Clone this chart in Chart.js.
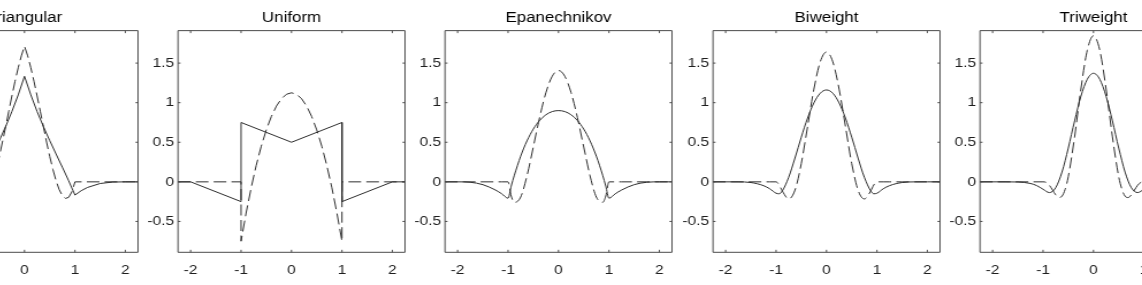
<!DOCTYPE html>
<html><head><meta charset="utf-8">
<script src="https://cdn.jsdelivr.net/npm/chart.js@4.4.1/dist/chart.umd.min.js"></script>
<style>
html,body{margin:0;padding:0;background:#fff;overflow:hidden;width:1142px;height:285px;position:relative;}
.panel{position:absolute;top:0;transform:scaleX(1.15);transform-origin:0 0;}
canvas{display:block;}
</style></head><body>
<script>
// ---------- data ----------
const titles = ['Triangular', 'Uniform', 'Epanechnikov', 'Biweight', 'Triweight'];
const xTickValues = [-2, -1, 0, 1, 2];
const yTickValues = [-0.5, 0, 0.5, 1, 1.5];

// Triangular
const triSolidX = [-2.25,-2,-1.75,-1.5,-1.25,-1.125,-1,-0.875,-0.75,-0.625,-0.5,-0.375,-0.25,-0.125,0,0.125,0.25,0.375,0.5,0.625,0.75,0.875,1,1.125,1.25,1.5,1.75,2,2.25];
const triSolidY = [0,0,-0.0026,-0.0208,-0.0703,-0.1117,-0.1667,0.014,0.1849,0.3519,0.5208,0.6976,0.888,1.098,1.3333,1.098,0.888,0.6976,0.5208,0.3519,0.1849,0.014,-0.1667,-0.1117,-0.0703,-0.0208,-0.0026,0,0];
const triDashX = [-2.25,-1,-0.9375,-0.875,-0.8125,-0.75,-0.6875,-0.625,-0.5625,-0.5,-0.4375,-0.375,-0.3125,-0.25,-0.1875,-0.125,-0.0625,0,0.0625,0.125,0.1875,0.25,0.3125,0.375,0.4375,0.5,0.5625,0.625,0.6875,0.75,0.8125,0.875,0.9375,1,2.25];
const triDashY = [0,0,-0.1283,-0.1959,-0.2091,-0.1741,-0.0973,0.0151,0.1567,0.3214,0.5029,0.6948,0.8908,1.0848,1.2704,1.4414,1.5915,1.7143,1.5915,1.4414,1.2704,1.0848,0.8908,0.6948,0.5029,0.3214,0.1567,0.0151,-0.0973,-0.1741,-0.2091,-0.1959,-0.1283,0,0];

// Uniform
const uniSolidX = [-2.25,-2,-1,-1,0,1,1,2,2.25];
const uniSolidY = [0,0,-0.25,0.75,0.5,0.75,-0.25,0,0];
const uniDashX = [-2.25,-1,-1,-0.9,-0.8,-0.7,-0.6,-0.5,-0.4,-0.3,-0.2,-0.1,0,0.1,0.2,0.3,0.4,0.5,0.6,0.7,0.8,0.9,1,1,2.25];
const uniDashY = [0,0,-0.75,-0.3938,-0.075,0.2063,0.45,0.6563,0.825,0.9563,1.05,1.1063,1.125,1.1063,1.05,0.9563,0.825,0.6563,0.45,0.2063,-0.075,-0.3938,-0.75,0,0];

// Epanechnikov
const epaX = [-2.25,-2,-1.75,-1.5,-1.25,-1.125,-1,-0.9375,-0.875,-0.75,-0.625,-0.5,-0.375,-0.25,-0.125,0,0.125,0.25,0.375,0.5,0.625,0.75,0.875,0.9375,1,1.125,1.25,1.5,1.75,2,2.25];
const epaSolidY = [0,0,-0.0052,-0.0357,-0.1033,-0.1509,-0.2063,-0.0546,0.0842,0.3244,0.5173,0.6662,0.7749,0.8473,0.8876,0.9,0.8876,0.8473,0.7749,0.6662,0.5173,0.3244,0.0842,-0.0546,-0.2063,-0.1509,-0.1033,-0.0357,-0.0052,0,0];
const epaDashY = [0,0,0,0,0,0,0,-0.1789,-0.2592,-0.1923,0.0759,0.4395,0.812,1.1261,1.3338,1.4063,1.3338,1.1261,0.812,0.4395,0.0759,-0.1923,-0.2592,-0.1789,0,0,0,0,0,0,0];

// Biweight
const biwX = [-2.25,-2,-1.75,-1.5,-1.25,-1.125,-1,-0.9375,-0.875,-0.75,-0.625,-0.5,-0.375,-0.25,-0.125,0,0.125,0.25,0.375,0.5,0.625,0.75,0.875,0.9375,1,1.125,1.25,1.5,1.75,2,2.25];
const biwSolidY = [0,0,-0.0004,-0.0085,-0.0478,-0.0876,-0.1437,-0.1504,-0.1128,0.0575,0.3009,0.5641,0.806,0.9974,1.1191,1.1607,1.1191,0.9974,0.806,0.5641,0.3009,0.0575,-0.1128,-0.1504,-0.1437,-0.0876,-0.0478,-0.0085,-0.0004,0,0];
const biwDashY = [0,0,0,0,0,0,0,-0.0394,-0.1169,-0.2159,-0.1047,0.2307,0.7005,1.1716,1.5153,1.6406,1.5153,1.1716,0.7005,0.2307,-0.1047,-0.2159,-0.1169,-0.0394,0,0,0,0,0,0,0];

// Triweight
const triwSolidX = [-2.25,-2,-1.75,-1.5,-1.25,-1.125,-1,-0.875,-0.75,-0.625,-0.5,-0.375,-0.25,-0.125,0,0.125,0.25,0.375,0.5,0.625,0.75,0.875,1,1.125,1.25,1.5,1.75,2,2.25];
const triwSolidY = [0,0,0,-0.0019,-0.0207,-0.0476,-0.0938,-0.1354,-0.0741,0.1235,0.4266,0.7698,1.0806,1.2942,1.3716,1.2942,1.0806,0.7698,0.4266,0.1235,-0.0741,-0.1354,-0.0938,-0.0476,-0.0207,-0.0019,0,0,0];
const triwDashX = [-2.25,-1,-0.9375,-0.875,-0.8125,-0.75,-0.6875,-0.625,-0.5625,-0.5,-0.375,-0.25,-0.125,0,0.125,0.25,0.375,0.5,0.5625,0.625,0.6875,0.75,0.8125,0.875,0.9375,1,2.25];
const triwDashY = [0,0,-0.0073,-0.043,-0.1029,-0.1642,-0.1984,-0.1805,-0.0944,0.0649,0.5674,1.1723,1.6597,1.8457,1.6597,1.1723,0.5674,0.0649,-0.0944,-0.1805,-0.1984,-0.1642,-0.1029,-0.043,-0.0073,0,0];

// ---------- layout / style ----------
const S = 1.15;                 // horizontal text stretch of the original
const AXIS_W = 45, PLOT_W = 227, RIGHT_PAD = 5;
const PANEL_LEFTS = [-88.8, 178.3, 445.4, 712.5, 979.6];
const X_AXIS_H = 32.7;
const FONT = '"Liberation Sans", Arimo, Arial, Helvetica, sans-serif';
const LINE_COLOR = '#2e2e2e';
const AXIS_COLOR = '#4a4a4a';
const TEXT_COLOR = '#1e1e1e';

const panels = [
  {title: titles[0], sx: triSolidX, sy: triSolidY, dx: triDashX, dy: triDashY, smooth: false},
  {title: titles[1], sx: uniSolidX, sy: uniSolidY, dx: uniDashX, dy: uniDashY, smooth: false},
  {title: titles[2], sx: epaX, sy: epaSolidY, dx: epaX, dy: epaDashY, smooth: true},
  {title: titles[3], sx: biwX, sy: biwSolidY, dx: biwX, dy: biwDashY, smooth: true},
  {title: titles[4], sx: triwSolidX, sy: triwSolidY, dx: triwDashX, dy: triwDashY, smooth: true}
];

const pts = (xs, ys) => xs.map((x, i) => ({x, y: ys[i]}));

const boxPlugin = {
  id: 'matlabBox',
  afterDatasetsDraw(chart) {
    const {ctx, chartArea: {left, right, top, bottom}, scales: {x, y}} = chart;
    ctx.save();
    ctx.strokeStyle = AXIS_COLOR;
    ctx.lineWidth = 1;
    ctx.setLineDash([]);
    ctx.beginPath();
    ctx.rect(left, top, right - left, bottom - top);
    const tl = 2.5;
    x.ticks.forEach(t => {
      const px = x.getPixelForValue(t.value);
      ctx.moveTo(px, bottom); ctx.lineTo(px, bottom - tl);
      ctx.moveTo(px, top); ctx.lineTo(px, top + tl);
    });
    y.ticks.forEach(t => {
      const py = y.getPixelForValue(t.value);
      ctx.moveTo(left, py); ctx.lineTo(left + tl / S, py);
      ctx.moveTo(right, py); ctx.lineTo(right - tl / S, py);
    });
    ctx.stroke();
    ctx.restore();
  }
};

const canvasW = Math.ceil((AXIS_W + PLOT_W + RIGHT_PAD) / S);
const padRight = canvasW - (AXIS_W + PLOT_W) / S;

panels.forEach((p, i) => {
  const div = document.createElement('div');
  div.className = 'panel';
  div.style.left = (PANEL_LEFTS[i] - AXIS_W) + 'px';
  const cv = document.createElement('canvas');
  cv.width = canvasW; cv.height = 285;
  cv.style.width = canvasW + 'px'; cv.style.height = '285px';
  div.appendChild(cv);
  document.body.appendChild(div);

  const mode = p.smooth ? 'monotone' : 'default';
  new Chart(cv, {
    type: 'line',
    data: {
      datasets: [
        {data: pts(p.dx, p.dy), borderColor: LINE_COLOR, borderWidth: 1, borderDash: [11, 4.5],
         pointRadius: 0, tension: 0, cubicInterpolationMode: mode, fill: false},
        {data: pts(p.sx, p.sy), borderColor: LINE_COLOR, borderWidth: 1,
         pointRadius: 0, tension: 0, cubicInterpolationMode: mode, fill: false}
      ]
    },
    options: {
      responsive: false, animation: false, devicePixelRatio: 1,
      layout: {padding: {left: 0, right: padRight, top: 0, bottom: 0}},
      plugins: {
        legend: {display: false}, tooltip: {enabled: false},
        title: {display: true, text: p.title, color: '#000', fullSize: false,
                font: {family: FONT, size: 14.7, weight: 'normal'},
                padding: {top: 9.3, bottom: 3.7}}
      },
      scales: {
        x: {
          type: 'linear', min: -2.25, max: 2.25,
          grid: {display: false, drawTicks: false}, border: {display: false},
          afterBuildTicks: s => { s.ticks = xTickValues.map(v => ({value: v})); },
          afterFit: s => { s.height = X_AXIS_H; },
          ticks: {color: TEXT_COLOR, font: {family: FONT, size: 13.5}, padding: 9.5,
                  maxRotation: 0, autoSkip: false, callback: v => String(v)}
        },
        y: {
          type: 'linear', min: -0.89, max: 1.91,
          grid: {display: false, drawTicks: false}, border: {display: false},
          afterBuildTicks: s => { s.ticks = yTickValues.map(v => ({value: v})); },
          afterFit: s => { s.width = AXIS_W / S; },
          ticks: {color: TEXT_COLOR, font: {family: FONT, size: 13.5}, padding: 4 / S,
                  autoSkip: false, callback: v => String(v)}
        }
      }
    },
    plugins: [boxPlugin]
  });
});
</script>
</body></html>
